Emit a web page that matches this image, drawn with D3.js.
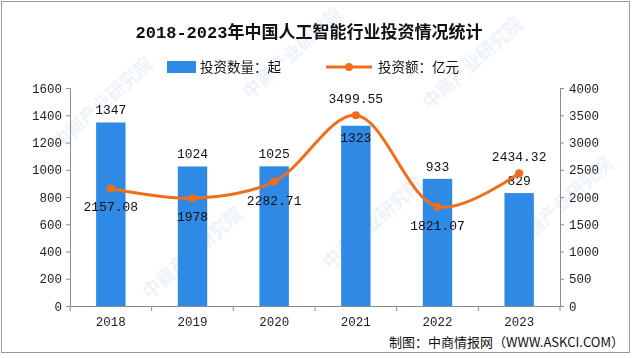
<!DOCTYPE html>
<html>
<head>
<meta charset="utf-8">
<script src="https://cdn.jsdelivr.net/npm/d3@7"></script>
<style>
	body { margin: 0; background: #fff; }
	svg { display: block; }
	text { font-family: "Liberation Mono", "Noto Sans CJK SC", monospace; fill: #111; }
	.cjk { font-family: "Noto Sans CJK SC", sans-serif; }
	.axis path, .axis line { stroke: #8c8c8c; }
	.axis text { font-size: 12.5px; fill: #222; }
</style>
</head>
<body>
<div id="chart"></div>
<script>
// Data
const years = ["2018", "2019", "2020", "2021", "2022", "2023"];
const dealCount = [1347, 1024, 1025, 1323, 933, 829];
const amount = [2157.08, 1978, 2282.71, 3499.55, 1821.07, 2434.32];
const amountLabels = ["2157.08", "1978", "2282.71", "3499.55", "1821.07", "2434.32"];
const leftTicks = [0, 200, 400, 600, 800, 1000, 1200, 1400, 1600];
const rightTicks = [0, 500, 1000, 1500, 2000, 2500, 3000, 3500, 4000];

// Label placement (layout only)
const barLabelInside = [false, false, false, true, false, false];
const lineLabelAbove = [false, false, false, true, false, true];

const W = 640, H = 358;
const margin = { left: 70, right: 80, top: 88, bottom: 52 };
const innerW = W - margin.left - margin.right;
const innerH = H - margin.top - margin.bottom;

const svg = d3.select("#chart").append("svg")
	.attr("width", W)
	.attr("height", H);

// Frame
svg.append("rect")
	.attr("x", 1.5).attr("y", 1.5)
	.attr("width", 628).attr("height", 351)
	.attr("fill", "none")
	.attr("stroke", "#9a9a9a");

// Watermarks
const wm = svg.append("g").attr("opacity", 0.13);
[[60, 150], [250, 100], [430, 110], [150, 300], [330, 270], [520, 250]].forEach(([x, y]) => {
	wm.append("text")
		.attr("class", "cjk")
		.attr("transform", `translate(${x},${y}) rotate(-42)`)
		.attr("font-size", 18)
		.attr("font-weight", "bold")
		.style("fill", "#6f9bd6")
		.text("中商产业研究院");
});

const x = d3.scaleBand()
	.domain(years)
	.range([0, innerW])
	.paddingInner(0.64)
	.paddingOuter(0.32);

const yL = d3.scaleLinear().domain([0, 1600]).range([innerH, 0]);
const yR = d3.scaleLinear().domain([0, 4000]).range([innerH, 0]);

const g = svg.append("g").attr("transform", `translate(${margin.left},${margin.top})`);

// Title
svg.append("text")
	.attr("x", 309)
	.attr("y", 38)
	.attr("text-anchor", "middle")
	.attr("font-size", 17)
	.attr("font-weight", "bold")
	.text("2018-2023年中国人工智能行业投资情况统计");

// Legend
const legend = svg.append("g").attr("transform", "translate(0,67)");
legend.append("rect")
	.attr("x", 167).attr("y", -6)
	.attr("width", 29).attr("height", 12)
	.attr("fill", "#2f8ae6");
legend.append("text")
	.attr("class", "cjk")
	.attr("x", 200).attr("y", 5)
	.attr("font-size", 13.5)
	.text("投资数量：起");
legend.append("line")
	.attr("x1", 326).attr("x2", 372)
	.attr("stroke", "#f06d1a")
	.attr("stroke-width", 3);
legend.append("circle")
	.attr("cx", 349).attr("r", 4)
	.attr("fill", "#f06d1a");
legend.append("text")
	.attr("class", "cjk")
	.attr("x", 378).attr("y", 5)
	.attr("font-size", 13.5)
	.text("投资额：亿元");

// Axes
g.append("g")
	.attr("class", "axis")
	.call(d3.axisLeft(yL).tickValues(leftTicks).tickFormat(d3.format("d"))
		.tickSize(4).tickSizeOuter(0).tickPadding(4));

g.append("g")
	.attr("class", "axis")
	.attr("transform", `translate(${innerW},0)`)
	.call(d3.axisRight(yR).tickValues(rightTicks).tickFormat(d3.format("d"))
		.tickSize(4).tickSizeOuter(0).tickPadding(5));

const xAxis = g.append("g")
	.attr("class", "axis")
	.attr("transform", `translate(0,${innerH})`)
	.call(d3.axisBottom(x).tickSize(0).tickPadding(11));
// separator ticks between categories
xAxis.selectAll(".sep")
	.data(d3.range(years.length + 1))
	.join("line")
	.attr("class", "sep")
	.attr("x1", i => i * innerW / years.length)
	.attr("x2", i => i * innerW / years.length)
	.attr("y1", 0)
	.attr("y2", 5);

// Bars
g.selectAll(".bar")
	.data(dealCount)
	.join("rect")
	.attr("class", "bar")
	.attr("x", (d, i) => x(years[i]))
	.attr("y", d => yL(d))
	.attr("width", x.bandwidth())
	.attr("height", d => innerH - yL(d))
	.attr("fill", "#2f8ae6");

g.selectAll(".bar-label")
	.data(dealCount)
	.join("text")
	.attr("class", "bar-label")
	.attr("x", (d, i) => x(years[i]) + x.bandwidth() / 2)
	.attr("y", (d, i) => barLabelInside[i] ? yL(d) + 16 : yL(d) - 8)
	.attr("text-anchor", "middle")
	.attr("font-size", 13)
	.text(d => d);

// Line
const cx = i => x(years[i]) + x.bandwidth() / 2;
const line = d3.line()
	.x((d, i) => cx(i))
	.y(d => yR(d))
	.curve(d3.curveCatmullRom);

g.append("path")
	.attr("d", line(amount))
	.attr("fill", "none")
	.attr("stroke", "#f06d1a")
	.attr("stroke-width", 3);

g.selectAll(".dot")
	.data(amount)
	.join("circle")
	.attr("class", "dot")
	.attr("cx", (d, i) => cx(i))
	.attr("cy", d => yR(d))
	.attr("r", 4)
	.attr("fill", "#f06d1a");

g.selectAll(".line-label")
	.data(amount)
	.join("text")
	.attr("class", "line-label")
	.attr("x", (d, i) => cx(i))
	.attr("y", (d, i) => lineLabelAbove[i] ? yR(d) - 12 : yR(d) + 23)
	.attr("text-anchor", "middle")
	.attr("font-size", 13)
	.text((d, i) => amountLabels[i]);

// Source
svg.append("text")
	.attr("class", "cjk")
	.attr("x", 624)
	.attr("y", 347)
	.attr("text-anchor", "end")
	.attr("font-size", 13)
	.text("制图：中商情报网（WWW.ASKCI.COM）");
</script>
</body>
</html>
